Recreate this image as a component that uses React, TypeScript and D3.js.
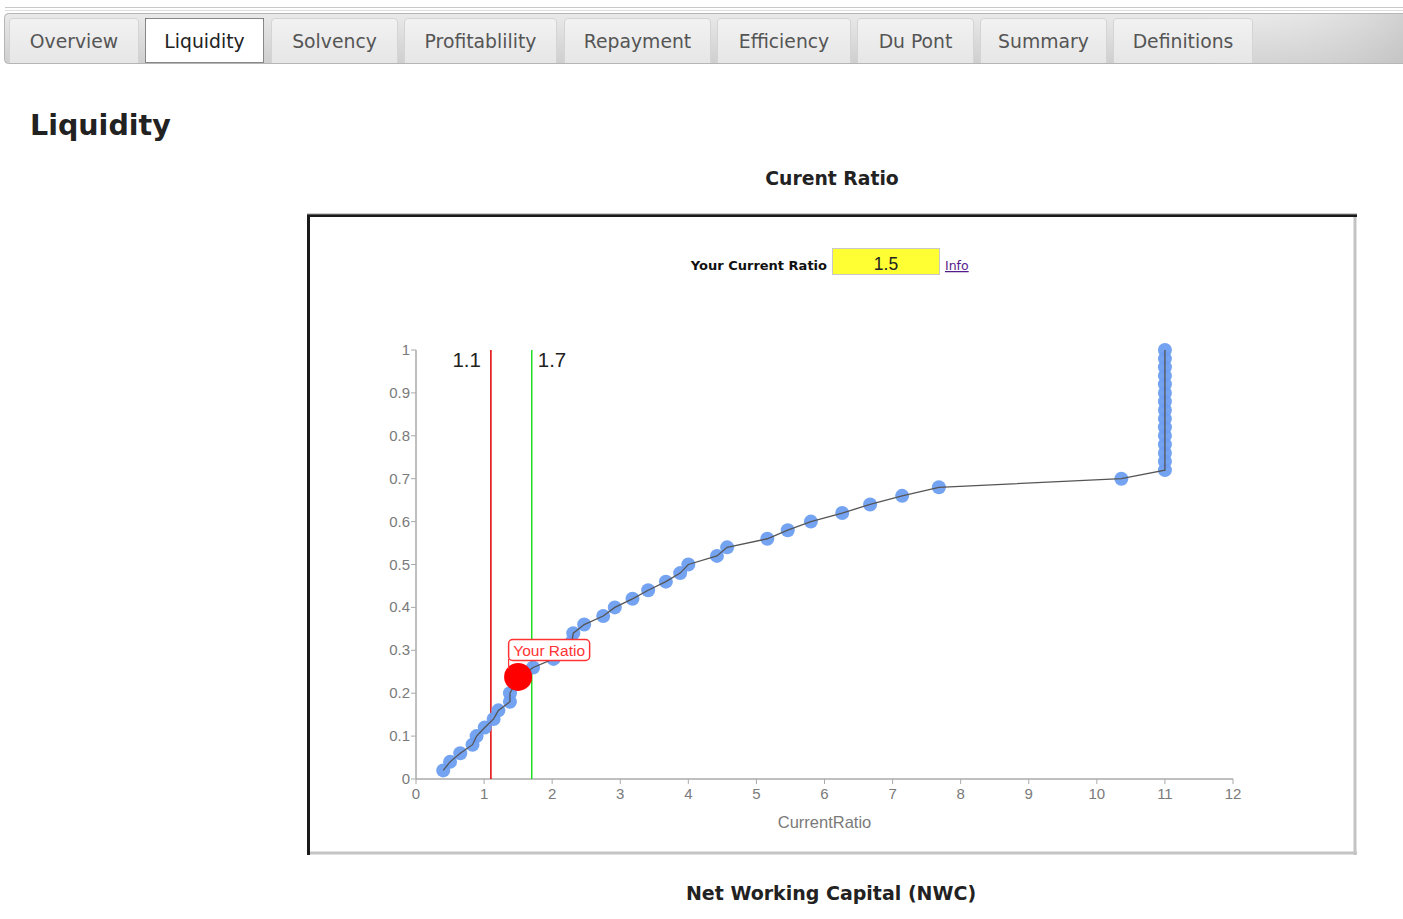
import React from "react";
import * as d3 from "d3";

// ---- data ----
const tabLabels = ["Overview", "Liquidity", "Solvency", "Profitablility", "Repayment", "Efficiency", "Du Pont", "Summary", "Definitions"];
const activeTab = "Liquidity";

const currentRatios = [
  0.40, 0.50, 0.65, 0.83, 0.89, 1.01, 1.14, 1.21, 1.38, 1.38,
  1.45, 1.55, 1.72, 2.02, 2.26, 2.29, 2.31, 2.47, 2.75, 2.92,
  3.18, 3.41, 3.67, 3.88, 4.00, 4.42, 4.57, 5.16, 5.46, 5.80,
  6.26, 6.67, 7.14, 7.68, 10.36, 11, 11, 11, 11, 11,
  11, 11, 11, 11, 11, 11, 11, 11, 11, 11,
];
const percentiles = [
  0.02, 0.04, 0.06, 0.08, 0.10, 0.12, 0.14, 0.16, 0.18, 0.20,
  0.22, 0.24, 0.26, 0.28, 0.30, 0.32, 0.34, 0.36, 0.38, 0.40,
  0.42, 0.44, 0.46, 0.48, 0.50, 0.52, 0.54, 0.56, 0.58, 0.60,
  0.62, 0.64, 0.66, 0.68, 0.70, 0.72, 0.74, 0.76, 0.78, 0.80,
  0.82, 0.84, 0.86, 0.88, 0.90, 0.92, 0.94, 0.96, 0.98, 1.00,
];
const yourRatio = 1.5;
const yourPercentile = 0.238;
const lowerBenchmark = 1.1;
const upperBenchmark = 1.7;
const xTicks = [0, 1, 2, 3, 4, 5, 6, 7, 8, 9, 10, 11, 12];
const yTicks = [0, 0.1, 0.2, 0.3, 0.4, 0.5, 0.6, 0.7, 0.8, 0.9, 1];

// ---- layout ----
const W = 1403;
const H = 919;
const tabExtents: [number, number][] = [
  [9, 139], [145, 264], [271, 398], [404, 557], [564, 711],
  [717, 851], [857, 974], [980, 1107], [1113, 1253],
];
const plot = { left: 416, right: 1233, top: 350, bottom: 779 };

export default function App() {
  const x = d3.scaleLinear().domain([0, 12]).range([plot.left, plot.right]);
  const y = d3.scaleLinear().domain([0, 1]).range([plot.bottom, plot.top]);
  const pts = currentRatios.map((r, i) => [r, percentiles[i]] as [number, number]);
  const line = d3.line<[number, number]>().x((d) => x(d[0])).y((d) => y(d[1]));
  const axisColor = "#aaaaaa";
  const tickText = "#7a7a7a";
  const sans = "'Liberation Sans', Arial, sans-serif";
  const ui = "'DejaVu Sans', Verdana, sans-serif";

  const yrX = x(yourRatio);
  const yrY = y(yourPercentile);

  return (
    <svg width={W} height={H} style={{ position: "absolute", left: 0, top: 0, background: "#fff" }}>
      <defs>
        <linearGradient id="barGrad" x1="0" y1="0" x2="0" y2="1">
          <stop offset="0" stopColor="#e9e9e9" />
          <stop offset="1" stopColor="#cfcfcf" />
        </linearGradient>
        <linearGradient id="barGradH" x1="0" y1="0" x2="1" y2="0">
          <stop offset="0" stopColor="#ffffff" stopOpacity="0" />
          <stop offset="0.85" stopColor="#ffffff" stopOpacity="0" />
          <stop offset="1" stopColor="#b8b8b8" stopOpacity="0.5" />
        </linearGradient>
        <linearGradient id="tabGrad" x1="0" y1="0" x2="0" y2="1">
          <stop offset="0" stopColor="#f2f2f2" />
          <stop offset="1" stopColor="#e6e6e6" />
        </linearGradient>
      </defs>

      {/* top lines */}
      <line x1={5} x2={W} y1={7.5} y2={7.5} stroke="#c8c8c8" />
      <line x1={5} x2={W} y1={10.5} y2={10.5} stroke="#dddddd" />
      {/* tab bar */}
      <rect x={4.5} y={13.5} width={W} height={50} rx={4} fill="url(#barGrad)" stroke="#b5b5b5" />
      <rect x={4.5} y={13.5} width={W} height={50} fill="url(#barGradH)" />
      {tabLabels.map((t, i) => {
        const [l, r] = tabExtents[i];
        const active = t === activeTab;
        return (
          <g key={t}>
            <path
              d={`M${l + 0.5},63 V${22} Q${l + 0.5},${18.5} ${l + 4},${18.5} H${r - 4} Q${r - 0.5},${18.5} ${r - 0.5},22 V63`}
              fill={active ? "#ffffff" : "url(#tabGrad)"}
              stroke={active ? "#ffffff" : "#d4d4d4"}
            />
            {active && (
              <rect x={l + 0.5} y={18.5} width={r - l - 1} height={44} fill="none" stroke="#111" strokeDasharray="1,1" />
            )}
            <text x={(l + r) / 2} y={48} textAnchor="middle" fontFamily={ui} fontSize={18.8} fill={active ? "#222" : "#555"}>
              {t}
            </text>
          </g>
        );
      })}

      {/* heading */}
      <text x={30} y={135} fontFamily={ui} fontWeight="bold" fontSize={28.5} fill="#222">Liquidity</text>
      <text x={832} y={185} textAnchor="middle" fontFamily={ui} fontWeight="bold" fontSize={18.8} fill="#222">Curent Ratio</text>

      {/* chart frame (inset border) */}
      <rect x={307} y={214} width={1050} height={641} fill="#fff" />
      <line x1={307} x2={1357} y1={215.5} y2={215.5} stroke="#1a1a1a" strokeWidth={3} />
      <line x1={308.5} x2={308.5} y1={214} y2={855} stroke="#1a1a1a" strokeWidth={3} />
      <line x1={310} x2={1357} y1={853} y2={853} stroke="#c4c4c4" strokeWidth={3} />
      <line x1={1355} x2={1355} y1={217} y2={855} stroke="#c4c4c4" strokeWidth={3} />
      <line x1={307} x2={1357} y1={214} y2={214} stroke="#999" strokeWidth={1} />

      {/* input row */}
      <text x={827} y={270} textAnchor="end" fontFamily={ui} fontWeight="bold" fontSize={13} fill="#111">Your Current Ratio</text>
      <rect x={832.5} y={248.5} width={107} height={26} fill="#ffff33" stroke="#c8c8c8" />
      <text x={886} y={270} textAnchor="middle" fontFamily={sans} fontSize={17.5} fill="#222">{yourRatio}</text>
      <text x={945} y={270} fontFamily={ui} fontSize={12.5} fill="#551a8b" textDecoration="underline">Info</text>

      {/* axes */}
      <line x1={plot.left} x2={plot.left} y1={plot.top} y2={plot.bottom} stroke={axisColor} strokeWidth={1.5} />
      <line x1={plot.left} x2={plot.right} y1={plot.bottom} y2={plot.bottom} stroke={axisColor} strokeWidth={1.5} />
      {yTicks.map((t) => (
        <g key={`y${t}`}>
          <line x1={plot.left - 5} x2={plot.left} y1={y(t)} y2={y(t)} stroke={axisColor} />
          <text x={plot.left - 6} y={y(t) + 5} textAnchor="end" fontFamily={sans} fontSize={15} fill={tickText}>
            {String(t)}
          </text>
        </g>
      ))}
      {xTicks.map((t) => (
        <g key={`x${t}`}>
          <line x1={x(t)} x2={x(t)} y1={plot.bottom} y2={plot.bottom + 5} stroke={axisColor} />
          <text x={x(t)} y={plot.bottom + 20} textAnchor="middle" fontFamily={sans} fontSize={15} fill={tickText}>
            {String(t)}
          </text>
        </g>
      ))}
      <text x={(plot.left + plot.right) / 2} y={828} textAnchor="middle" fontFamily={sans} fontSize={16.5} fill={tickText}>
        CurrentRatio
      </text>

      {/* benchmark lines */}
      <line x1={x(lowerBenchmark)} x2={x(lowerBenchmark)} y1={plot.top} y2={plot.bottom} stroke="#e00000" strokeWidth={1.5} />
      <line x1={x(upperBenchmark)} x2={x(upperBenchmark)} y1={plot.top} y2={plot.bottom} stroke="#22dd22" strokeWidth={1.5} />
      <text x={x(lowerBenchmark) - 10} y={367} textAnchor="end" fontFamily={sans} fontSize={20.5} fill="#222">{lowerBenchmark}</text>
      <text x={x(upperBenchmark) + 6} y={367} fontFamily={sans} fontSize={20.5} fill="#222">{upperBenchmark}</text>

      {/* points + line */}
      {pts.map((p, i) => (
        <circle key={i} cx={x(p[0])} cy={y(p[1])} r={7} fill="#6d9ef0" fillOpacity={0.95} />
      ))}
      <path d={line(pts) || ""} fill="none" stroke="#555" strokeWidth={1.3} />

      {/* your ratio */}
      <circle cx={yrX} cy={yrY} r={14} fill="#ff0000" />
      <line x1={yrX - 9.5} x2={yrX - 9.5} y1={yrY - 18} y2={yrY - 8} stroke="#ff3333" strokeWidth={1.2} />
      <rect x={yrX - 9.5} y={639.5} width={81} height={21} rx={4} fill="#fff" stroke="#ff3333" strokeWidth={1.5} />
      <text x={yrX + 31} y={656} textAnchor="middle" fontFamily={sans} fontSize={15.5} fill="#ff3333">Your Ratio</text>

      <text x={831} y={900} textAnchor="middle" fontFamily={ui} fontWeight="bold" fontSize={19} fill="#222">Net Working Capital (NWC)</text>
    </svg>
  );
}
